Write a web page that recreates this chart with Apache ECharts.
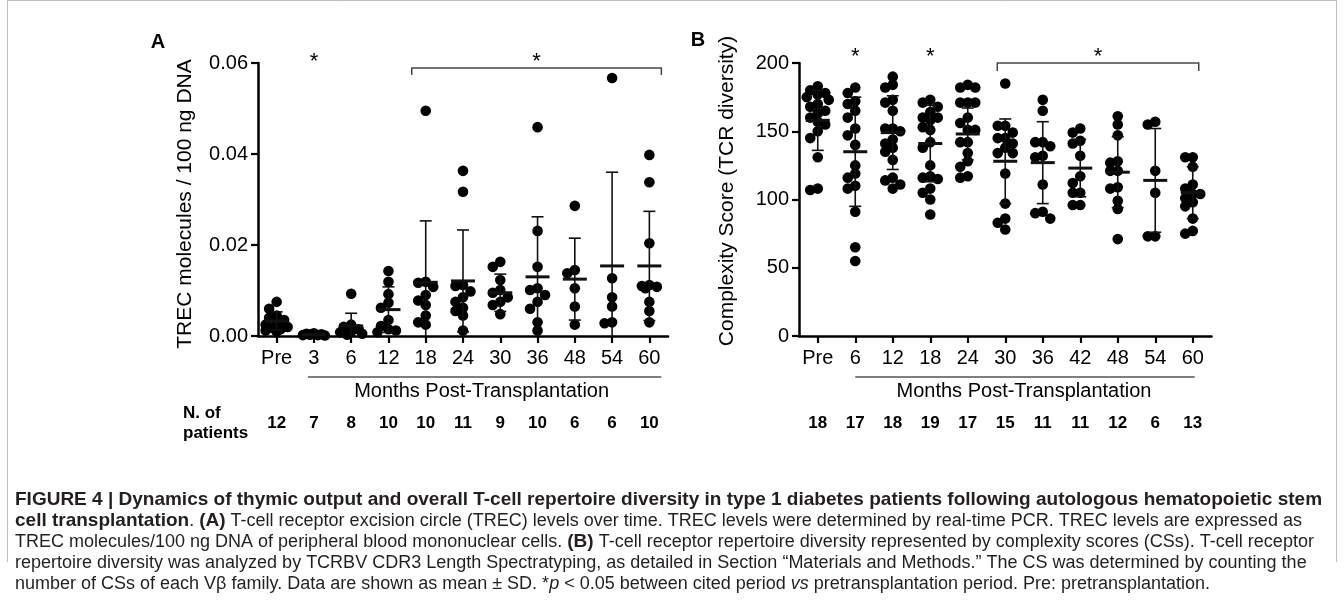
<!DOCTYPE html>
<html><head><meta charset="utf-8">
<script src="https://cdn.jsdelivr.net/npm/echarts@6/dist/echarts.min.js"></script>
<style>html,body{margin:0;padding:0;background:#fff}#c{width:1344px;height:604px}</style>
</head><body><div id="c"></div>
<script>
// ---------- categories ----------
const catsA = ['Pre','3','6','12','18','24','30','36','48','54','60'];
const catsB = ['Pre','6','12','18','24','30','36','42','48','54','60'];
const patientsA = [12,7,8,10,10,11,9,10,6,6,10];
const patientsB = [18,17,18,19,17,15,11,11,12,6,13];
const ticksA = [0, 0.02, 0.04, 0.06];
const ticksB = [0, 50, 100, 150, 200];

// ---------- panel A: TREC molecules / 100 ng DNA ----------
const trecPre = [0.0075,0.006,0.0045,0.004,0.0035,0.003,0.0025,0.002,0.0018,0.0015,0.0012,0.001];
const trec3   = [0.0006,0.0004,0.0003,0.0002,0.0005,0.0002,0.0001];
const trec6   = [0.0093,0.0025,0.002,0.0015,0.001,0.0008,0.0005,0.0003];
const trec12  = [0.0143,0.0119,0.0092,0.0073,0.0062,0.0035,0.0022,0.0015,0.0012,0.0008];
const trec18  = [0.0495,0.0119,0.0117,0.0108,0.009,0.0078,0.0068,0.0045,0.003,0.0025];
const trec24  = [0.0363,0.0317,0.0112,0.011,0.0098,0.0085,0.0075,0.0062,0.0055,0.0045,0.0012];
const trec30  = [0.0163,0.0152,0.0123,0.0101,0.0095,0.0085,0.0075,0.0068,0.0048];
const trec36  = [0.0459,0.0231,0.0152,0.0105,0.0101,0.009,0.0075,0.006,0.003,0.0012];
const trec48  = [0.0286,0.0145,0.0138,0.0105,0.0065,0.0025];
const trec54  = [0.0567,0.0127,0.0085,0.0065,0.003,0.0028];
const trec60  = [0.0398,0.0338,0.0204,0.0112,0.011,0.0108,0.0105,0.0075,0.0055,0.003];
const trecMean = [0.0033,0.0003,0.0022,0.0058,0.0118,0.0121,0.0095,0.013,0.0125,0.0154,0.0154];
const trecSD   = [0.002,0.0002,0.0028,0.005,0.0135,0.0112,0.0041,0.0132,0.009,0.0206,0.012];

// ---------- panel B: Complexity score ----------
const csPre = [183,180,178,177,175,173,170,168,165,163,160,157,155,150,145,131,107,108];
const cs6   = [182,178,172,170,165,160,152,147,140,125,119,116,110,108,91,65,55];
const cs12  = [190,184,182,173,171,165,152,152,150,144,141,138,135,129,116,114,111,108];
const cs18  = [173,171,168,164,160,160,158,153,151,142,138,125,117,116,115,108,105,100,89];
const cs24  = [184,182,182,171,171,171,160,156,151,151,142,142,134,128,124,117,116];
const cs30  = [185,154,154,149,145,145,141,138,134,134,119,97,86,83,78];
const cs36  = [173,165,142,142,139,132,131,111,91,90,86];
const cs42  = [152,149,143,141,132,117,112,105,105,96,96];
const cs48  = [161,155,147,128,127,121,121,109,108,99,93,71];
const cs54  = [157,155,121,105,73,73];
const cs60  = [131,131,124,111,108,104,104,101,98,95,86,77,75];
const csMean = [158,135,149,141,148,128,127,123,120,114,105];
const csSD   = [22,40,27,28,19,31,30,21,26,38,19];

const groupsA = [trecPre,trec3,trec6,trec12,trec18,trec24,trec30,trec36,trec48,trec54,trec60];
const groupsB = [csPre,cs6,cs12,cs18,cs24,cs30,cs36,cs42,cs48,cs54,cs60];

const FONT = '"Liberation Sans", Arial, sans-serif';
const chart = echarts.init(document.getElementById('c'), null, {renderer:'canvas'});

const GRID_TOP = 63, GRID_H = 273;
// horizontal spreading of overlapping dots (layout only)
function swarm(vals, pxPerUnit) {
  const d = 7.5;
  const order = vals.map((v,i)=>i).sort((a,b)=>vals[b]-vals[a]);
  const placed = []; const offs = new Array(vals.length).fill(0);
  const cands = [0,-7.5,7.5,-4,4,-11,11];
  order.forEach(i => {
    const y = vals[i]*pxPerUnit;
    let best = 0, bestScore = -1;
    for (const x of cands) {
      let mind = Infinity;
      placed.forEach(p => { mind = Math.min(mind, Math.hypot(p[0]-x, p[1]-y)); });
      if (mind >= d) { best = x; bestScore = Infinity; break; }
      if (mind > bestScore) { bestScore = mind; best = x; }
    }
    offs[i] = best; placed.push([best, y]);
  });
  return offs;
}
function pointSeries(idx, groups, maxV) {
  const data = [];
  const k = GRID_H / maxV;
  groups.forEach((vals, i) => {
    const offs = swarm(vals, k);
    vals.forEach((v, j) => data.push([i, v, offs[j]]));
  });
  return {
    type:'custom', xAxisIndex:idx, yAxisIndex:idx, data, encode:{x:0,y:1},
    silent:true, animation:false, z:3,
    renderItem:(p, api) => {
      const c = api.coord([api.value(0), api.value(1)]);
      return {type:'circle', shape:{cx:c[0]+api.value(2), cy:c[1], r:5.3}, style:{fill:'#000'}};
    }
  };
}
function errSeries(idx, means, sds) {
  return {
    type:'custom', xAxisIndex:idx, yAxisIndex:idx,
    data: means.map((m,i)=>[i, m, sds[i]]), encode:{x:0,y:1},
    silent:true, animation:false, z:4,
    renderItem:(p, api) => {
      const i = api.value(0), m = api.value(1), s = api.value(2);
      let lo = m - s; const clipped = lo < 0; if (clipped) lo = 0;
      const t = api.coord([i, m+s]), c = api.coord([i, m]), b = api.coord([i, lo]);
      const x = c[0];
      const st = {stroke:'#111', lineWidth:1.6};
      const ch = [
        {type:'line', shape:{x1:x, y1:t[1], x2:x, y2:b[1]}, style:st},
        {type:'line', shape:{x1:x-6, y1:t[1], x2:x+6, y2:t[1]}, style:st},
        {type:'line', shape:{x1:x-12, y1:c[1], x2:x+12, y2:c[1]}, style:{stroke:'#111', lineWidth:3}}
      ];
      if (!clipped) ch.push({type:'line', shape:{x1:x-6, y1:b[1], x2:x+6, y2:b[1]}, style:st});
      return {type:'group', children:ch};
    }
  };
}
const axisLine = {show:true, lineStyle:{color:'#000', width:2.5}};
const tick = {show:true, length:7, lineStyle:{color:'#000', width:2.2}};
function xAx(idx, cats) {
  return {gridIndex:idx, type:'category', data:cats, boundaryGap:true,
    axisLine:axisLine, axisTick:Object.assign({alignWithLabel:true}, tick),
    axisLabel:{color:'#000', fontSize:20, fontFamily:FONT, margin:12, interval:0},
    splitLine:{show:false}};
}
function yAx(idx, max, interval, fmt) {
  return {gridIndex:idx, type:'value', min:0, max:max, interval:interval,
    axisLine:axisLine, axisTick:tick, splitLine:{show:false},
    axisLabel:{color:'#000', fontSize:20, fontFamily:FONT, margin:10, formatter:fmt}};
}
chart.setOption({
  backgroundColor:'#fff',
  animation:false,
  grid:[
    {left:258, top:GRID_TOP, width:410, height:GRID_H},
    {left:799, top:GRID_TOP, width:412.5, height:GRID_H}
  ],
  xAxis:[xAx(0, catsA), xAx(1, catsB)],
  yAxis:[
    yAx(0, ticksA[ticksA.length-1], ticksA[1]-ticksA[0], v => v.toFixed(2)),
    yAx(1, ticksB[ticksB.length-1], ticksB[1]-ticksB[0], v => String(v))
  ],
  series:[
    pointSeries(0, groupsA, 0.06), errSeries(0, trecMean, trecSD),
    pointSeries(1, groupsB, 200), errSeries(1, csMean, csSD)
  ]
});

// ---------- annotations positioned from the axes ----------
const px = (idx, i) => chart.convertToPixel({xAxisIndex:idx, yAxisIndex:idx}, [i, 0])[0];
const g = [];
const txt = (x, y, text, font, opts) => g.push(Object.assign({type:'text', x, y, silent:true,
  style:Object.assign({text, font, fill:'#000', align:'center', verticalAlign:'middle'}, opts||{})}));
const line = (x1,y1,x2,y2,color,w) => g.push({type:'line', silent:true,
  shape:{x1,y1,x2,y2}, style:{stroke:color, lineWidth:w}});

// frame
g.push({type:'polyline', silent:true, shape:{points:[[7.5,562],[7.5,0.5],[1336.5,0.5],[1336.5,562]]},
  style:{stroke:'#bdbdbd', lineWidth:1, fill:null}});

// panel letters
txt(158, 42, 'A', 'bold 20px '+FONT);
txt(698, 40, 'B', 'bold 20px '+FONT);
// axis titles
g.push({type:'text', x:185, y:204, rotation:Math.PI/2, silent:true,
  style:{text:'TREC molecules / 100 ng DNA', font:'21px '+FONT, fill:'#000', align:'center', verticalAlign:'middle'}});
g.push({type:'text', x:727, y:191, rotation:Math.PI/2, silent:true,
  style:{text:'Complexity Score (TCR diversity)', font:'21px '+FONT, fill:'#000', align:'center', verticalAlign:'middle'}});

// significance marks
const star = '22px '+FONT;
txt(px(0,1), 62, '*', star);
const a0 = px(0,4)-14, a1 = px(0,10)+12;
line(a0,68,a1,68,'#444',1.5); line(a0,67.5,a0,75,'#444',1.5); line(a1,67.5,a1,75,'#444',1.5);
txt((a0+a1)/2, 62, '*', star);
txt(px(1,1), 57, '*', star);
txt(px(1,3), 57, '*', star);
const b0 = px(1,5)-8, b1 = px(1,10)+6;
line(b0,63,b1,63,'#444',1.5); line(b0,62.5,b0,71,'#444',1.5); line(b1,62.5,b1,71,'#444',1.5);
txt((b0+b1)/2, 57, '*', star);

// "Months Post-Transplantation"
line(px(0,1)-6, 377, px(0,10)+12, 377, '#555', 1.6);
txt((px(0,1)+px(0,10))/2, 391, 'Months Post-Transplantation', '20px '+FONT);
line(px(1,1), 377, px(1,10)+2, 377, '#555', 1.6);
txt((px(1,1)+px(1,10))/2, 391, 'Months Post-Transplantation', '20px '+FONT);

// N. of patients
txt(183, 413, 'N. of', 'bold 17px '+FONT, {align:'left'});
txt(183, 433, 'patients', 'bold 17px '+FONT, {align:'left'});
patientsA.forEach((n,i)=>txt(px(0,i), 423, String(n), 'bold 17px '+FONT));
patientsB.forEach((n,i)=>txt(px(1,i), 423, String(n), 'bold 17px '+FONT));

// caption
const cap = [
  '{b|FIGURE 4 | Dynamics of thymic output and overall T-cell repertoire diversity in type 1 diabetes patients following autologous hematopoietic stem}',
  '{b|cell transplantation}{n|. }{b|(A)}{n| T-cell receptor excision circle (TREC) levels over time. TREC levels were determined by real-time PCR. TREC levels are expressed as}',
  '{n|TREC molecules/100 ng DNA of peripheral blood mononuclear cells. }{b|(B)}{n| T-cell receptor repertoire diversity represented by complexity scores (CSs). T-cell receptor}',
  '{n|repertoire diversity was analyzed by TCRBV CDR3 Length Spectratyping, as detailed in Section “Materials and Methods.” The CS was determined by counting the}',
  '{n|number of CSs of each Vβ family. Data are shown as mean ± SD. *}{i|p}{n| < 0.05 between cited period }{i|vs}{n| pretransplantation period. Pre: pretransplantation.}'
];
const rich = {
  b:{fontWeight:'bold', fontSize:19, fontFamily:FONT, fill:'#231f20'},
  n:{fontSize:18, fontFamily:FONT, fill:'#231f20'},
  i:{fontStyle:'italic', fontSize:18, fontFamily:FONT, fill:'#231f20'}
};
cap.forEach((t,k)=>g.push({type:'text', x:15, y:500+21*k, silent:true,
  style:{text:t, rich, align:'left', verticalAlign:'middle', fill:'#231f20'}}));

chart.setOption({graphic:g});
</script>
</body></html>
